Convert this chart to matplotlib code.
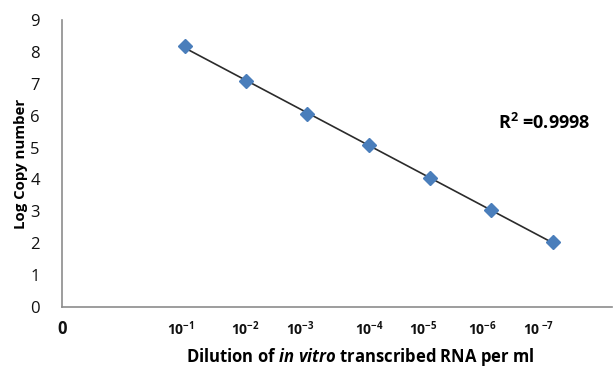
import numpy as np
import matplotlib
matplotlib.use("Agg")
import matplotlib.pyplot as plt

# Data
x_index = [2, 3, 4, 5, 6, 7, 8]
log_copy = [8.18, 7.08, 6.05, 5.07, 4.04, 3.05, 2.03]
dilution_labels = ["0", r"$\mathbf{10^{-1}}$", r"$\mathbf{10^{-2}}$", r"$\mathbf{10^{-3}}$",
                   r"$\mathbf{10^{-4}}$", r"$\mathbf{10^{-5}}$", r"$\mathbf{10^{-6}}$",
                   r"$\mathbf{10\,^{-7}}$"]
label_pos = [0, 1.94, 2.99, 3.88, 5.02, 5.89, 6.85, 7.77]
y_ticks = list(range(0, 10))
r2_text = "R$^2$ =0.9998"

plt.rcParams['font.family'] = ['Open Sans', 'DejaVu Sans']
plt.rcParams['mathtext.fontset'] = 'custom'
plt.rcParams['mathtext.rm'] = 'Open Sans:bold'
plt.rcParams['mathtext.bf'] = 'Open Sans:bold'
plt.rcParams['mathtext.it'] = 'Open Sans:italic:bold'

fig = plt.figure(figsize=(6.13, 3.71), dpi=100)
ax = fig.add_axes([62/613, 1-307/371, 550/613, 287/371])

# trend line
coef = np.polyfit(x_index, log_copy, 1)
xs = np.array([x_index[0], x_index[-1]])
ax.plot(xs, np.polyval(coef, xs), color='#2b2b2b', lw=1.2, zorder=2)
ax.plot(x_index, log_copy, linestyle='none', marker='D', ms=7,
        color='#4a7ebb', mec='#4a7ebb', zorder=3)

ax.set_xlim(0, 8.97)
ax.set_ylim(0, 9)
ax.set_yticks(y_ticks)
ax.set_yticklabels([str(v) for v in y_ticks], fontsize=12)
ax.set_xticks(label_pos)
ax.set_xticklabels(dilution_labels, fontsize=10, fontweight='bold')
ax.xaxis.get_majorticklabels()[0].set_fontsize(12)
ax.tick_params(axis='both', length=0, colors='#111111')
ax.tick_params(axis='y', pad=16)
ax.tick_params(axis='x', pad=9)

for s in ['top', 'right']:
    ax.spines[s].set_visible(False)
for s in ['left', 'bottom']:
    ax.spines[s].set_color('#8c8c8c')
    ax.spines[s].set_linewidth(1.2)

ax.set_ylabel("Log Copy number", fontsize=10.8, fontweight='bold')
ax.yaxis.set_label_coords(-0.062, 0.5)

fig.text(360/613, 1-357/371, r"Dilution of $\it{in\ vitro}$ transcribed RNA per ml",
         ha='center', va='center', fontsize=12, fontweight='bold')
fig.text(498/613, 1-123/371, r2_text, ha='left', va='center', fontsize=13, fontweight='bold')

fig.savefig("out.png", dpi=100)
